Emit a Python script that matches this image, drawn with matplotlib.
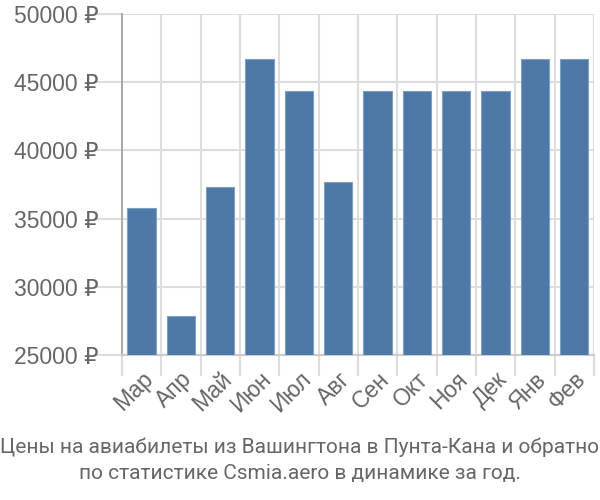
import matplotlib
matplotlib.use("Agg")
import matplotlib.pyplot as plt
import numpy as np

months = ["Мар", "Апр", "Май", "Июн", "Июл", "Авг", "Сен", "Окт", "Ноя", "Дек", "Янв", "Фев"]
prices = [35800, 27860, 37340, 46680, 44380, 37710, 44380, 44380, 44380, 44380, 46680, 46680]
yticks = [25000, 30000, 35000, 40000, 45000, 50000]
title = "Цены на авиабилеты из Вашингтона в Пунта-Кана и обратно\nпо статистике Csmia.aero в динамике за год."

plt.rcParams['font.family'] = ['Liberation Sans', 'DejaVu Sans']

fig = plt.figure(figsize=(6, 5), dpi=100)
ax = fig.add_axes([0.203, 0.29, 0.787, 0.682])

x = np.arange(len(months))
ax.bar(x, prices, width=0.72, color="#4e79a7", edgecolor="#7f9fc4", linewidth=0.8, zorder=3)

ax.set_xlim(-0.5, len(months) - 0.5)
ax.set_ylim(25000, 50000)

ax.set_yticks(yticks)
ax.set_yticklabels([f"{v} ₽" for v in yticks])
ax.set_xticks(x)
ax.set_xticklabels(months, rotation=45, ha="right", va="top", rotation_mode="anchor")
ax.set_xticks(np.arange(-0.5, len(months) + 0.5, 1.0), minor=True)

ax.tick_params(axis="y", length=20, color="#dddddd", width=1.5, labelsize=16.5, labelcolor="#666666", pad=-3)
ax.tick_params(axis="x", which="major", length=0, labelsize=16.5, labelcolor="#666666", pad=9)
ax.tick_params(axis="x", which="minor", length=15, color="#dddddd", width=1.5)

ax.grid(axis="y", color="#dddddd", linewidth=1.5, zorder=0)
ax.grid(axis="x", which="minor", color="#dddddd", linewidth=1.5, zorder=0)

for s in ["top", "right"]:
    ax.spines[s].set_visible(False)
ax.spines["left"].set_color("#aaaaaa")
ax.spines["left"].set_linewidth(1.5)
ax.spines["bottom"].set_color("#cccccc")
ax.spines["bottom"].set_linewidth(1.5)

fig.text(0.5, 0.08, title, ha="center", va="center", fontsize=15, color="#666666",
         linespacing=1.45, family=['Roboto', 'DejaVu Sans'])

fig.savefig("out.png", dpi=100)
